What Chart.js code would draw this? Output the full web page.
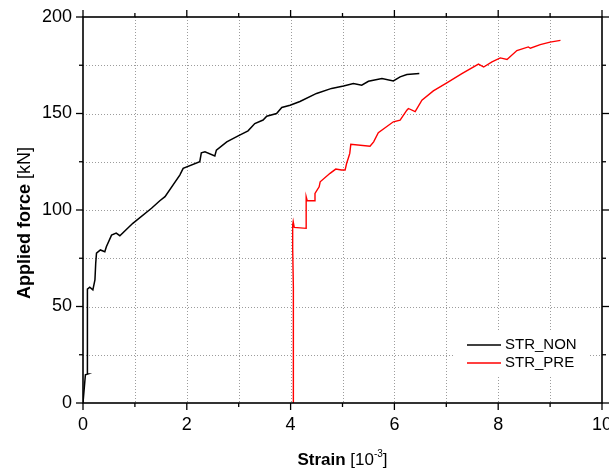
<!DOCTYPE html>
<html>
<head>
<meta charset="utf-8">
<script src="https://cdn.jsdelivr.net/npm/chart.js@4"></script>
<style>
  html, body { margin: 0; padding: 0; background: #fff; }
  #wrap { width: 609px; height: 471px; }
</style>
</head>
<body>
<div id="wrap"><canvas id="myChart" width="609" height="471"></canvas></div>
<script>
// strain [10^-3] / applied force [kN]
const strainNon = [0, 0.046, 0.09, 0.09, 0.08, 0.13, 0.19, 0.23, 0.245, 0.26, 0.335, 0.42, 0.45, 0.55, 0.64, 0.71,
    0.96, 1.32, 1.48, 1.58, 1.865, 1.93, 2.25, 2.28, 2.35, 2.54, 2.57, 2.77, 2.99, 3.18, 3.31, 3.47, 3.54, 3.73,
    3.83, 3.99, 4.18, 4.5, 4.79, 5.02, 5.21, 5.37, 5.5, 5.76, 5.98, 6.11, 6.24, 6.48];
const forceNon = [0, 14.6, 15, 55, 59, 60, 58.6, 63.8, 72.4, 77.6, 79.3, 78.4, 81, 87, 88, 86.7,
    93.1, 100.9, 104.8, 106.9, 118.1, 121.6, 125, 129.6, 130.2, 128, 131, 135.3, 138.4, 141, 144.8, 146.6, 148.6, 150,
    153.1, 154.3, 156.2, 160.4, 163, 164.2, 165.5, 164.7, 166.7, 168.1, 166.9, 169, 170.2, 170.7];

const strainPre = [4.06, 4.05, 4.06, 4.05, 4.04, 4.04, 4.05, 4.07, 4.3, 4.3, 4.32, 4.46, 4.47, 4.55, 4.57, 4.76,
    4.87, 4.98, 5.05, 5.08, 5.11, 5.14, 5.16, 5.53, 5.6, 5.69, 5.98, 6.11, 6.24, 6.27, 6.4, 6.53, 6.75, 7.01,
    7.3, 7.62, 7.72, 7.88, 8.04, 8.17, 8.36, 8.58, 8.62, 8.81, 9.0, 9.2];
const forcePre = [0, 20, 40, 60, 80, 92.2, 94, 91, 90.5, 106.9, 104.8, 104.8, 108.6, 112, 114.6, 119,
    121.2, 120.7, 120.7, 124.2, 126.7, 129.3, 134, 133, 135.3, 140, 145.7, 146.6, 151.7, 152.6, 151, 156.9, 161.7, 165.9,
    170.7, 175.6, 174.1, 176.7, 178.8, 178, 182.6, 184.5, 183.8, 185.7, 187, 187.9];

const seriesNames = ['STR_NON', 'STR_PRE'];
const seriesColors = ['#000000', '#ff0000'];
const xTicks = [0, 2, 4, 6, 8, 10];
const xMinor = [1, 3, 5, 7, 9];
const yTicks = [0, 50, 100, 150, 200];
const yMinor = [25, 75, 125, 175];

const FONT = '"Liberation Sans", Arial, sans-serif';

function pairs(xs, ys) {
    return xs.map((v, i) => ({x: v, y: ys[i]}));
}

// grid, frame, ticks, titles and legend drawn by hand
const axisPlugin = {
    id: 'axisPlugin',
    beforeDatasetsDraw(chart) {
        const ctx = chart.ctx;
        const a = chart.chartArea;
        const x = chart.scales.x, y = chart.scales.y;
        ctx.save();
        ctx.strokeStyle = '#9c9c9c';
        ctx.lineWidth = 1;
        ctx.setLineDash([1, 2]);
        for (let v = 1; v < 10; v++) {
            let px = Math.round(x.getPixelForValue(v)) + 0.5;
            ctx.beginPath(); ctx.moveTo(px, a.top); ctx.lineTo(px, a.bottom); ctx.stroke();
        }
        for (let v = 25; v < 200; v += 25) {
            let py = Math.round(y.getPixelForValue(v)) + 0.5;
            ctx.beginPath(); ctx.moveTo(a.left, py); ctx.lineTo(a.right, py); ctx.stroke();
        }
        ctx.restore();
    },
    afterDraw(chart) {
        const ctx = chart.ctx;
        const a = chart.chartArea;
        const x = chart.scales.x, y = chart.scales.y;
        ctx.save();

        // legend box
        ctx.fillStyle = '#fff';
        ctx.fillRect(453, 330, 137, 47);
        ctx.font = '15px ' + FONT;
        ctx.textAlign = 'left';
        ctx.textBaseline = 'middle';
        seriesNames.forEach((name, i) => {
            let ly = 345 + i * 18;
            ctx.strokeStyle = seriesColors[i];
            ctx.lineWidth = 1.5;
            ctx.beginPath(); ctx.moveTo(467, ly); ctx.lineTo(501, ly); ctx.stroke();
            ctx.fillStyle = '#000';
            ctx.fillText(name, 505, ly);
        });

        // frame
        ctx.strokeStyle = '#000';
        ctx.lineWidth = 1.6;
        ctx.strokeRect(a.left, a.top, a.right - a.left, a.bottom - a.top);

        // ticks on all four sides, pointing out
        ctx.lineWidth = 1.3;
        const tick = (px, py, dx, dy) => {
            ctx.beginPath(); ctx.moveTo(px, py); ctx.lineTo(px + dx, py + dy); ctx.stroke();
        };
        xTicks.forEach(v => { let px = x.getPixelForValue(v); tick(px, a.bottom, 0, 7); tick(px, a.top, 0, -7); });
        xMinor.forEach(v => { let px = x.getPixelForValue(v); tick(px, a.bottom, 0, 4); tick(px, a.top, 0, -4); });
        yTicks.forEach(v => { let py = y.getPixelForValue(v); tick(a.left, py, -7, 0); tick(a.right, py, 7, 0); });
        yMinor.forEach(v => { let py = y.getPixelForValue(v); tick(a.left, py, -4, 0); tick(a.right, py, 4, 0); });

        // tick labels
        ctx.fillStyle = '#000';
        ctx.font = '18px ' + FONT;
        ctx.textAlign = 'center';
        ctx.textBaseline = 'alphabetic';
        xTicks.forEach(v => ctx.fillText(String(v), x.getPixelForValue(v), a.bottom + 27));
        ctx.textAlign = 'right';
        ctx.textBaseline = 'middle';
        yTicks.forEach(v => ctx.fillText(String(v), a.left - 11, y.getPixelForValue(v)));

        // axis titles with mixed fonts
        const parts = (list) => {
            let w = 0;
            list.forEach(p => { ctx.font = p.font; p.w = ctx.measureText(p.t).width; w += p.w; });
            return w;
        };
        const drawParts = (list, x0, base) => {
            let cx = x0;
            ctx.textAlign = 'left';
            list.forEach(p => { ctx.font = p.font; ctx.fillText(p.t, cx, base + (p.dy || 0)); cx += p.w; });
        };

        ctx.textBaseline = 'alphabetic';
        const xt = [
            {t: 'Strain ', font: 'bold 17px ' + FONT},
            {t: '[10', font: '17px ' + FONT},
            {t: '-3', font: '10px ' + FONT, dy: -8},
            {t: ']', font: '17px ' + FONT}
        ];
        let wx = parts(xt);
        drawParts(xt, (a.left + a.right) / 2 - wx / 2, 465);

        const yt = [
            {t: 'Applied force ', font: 'bold 18px ' + FONT},
            {t: '[kN]', font: '18px ' + FONT}
        ];
        let wy = parts(yt);
        ctx.translate(30, 223);
        ctx.rotate(-Math.PI / 2);
        drawParts(yt, -wy / 2, 0);

        ctx.restore();
    }
};

document.addEventListener('DOMContentLoaded', function () {
    let ctx = document.getElementById('myChart').getContext('2d');

    new Chart(ctx, {
        type: 'line',
        data: {
            datasets: [
                {
                    label: seriesNames[0],
                    data: pairs(strainNon, forceNon),
                    borderColor: seriesColors[0],
                    borderWidth: 1.5,
                    pointRadius: 0,
                    tension: 0,
                    fill: false
                },
                {
                    label: seriesNames[1],
                    data: pairs(strainPre, forcePre),
                    borderColor: seriesColors[1],
                    borderWidth: 1.4,
                    pointRadius: 0,
                    tension: 0,
                    fill: false
                }
            ]
        },
        options: {
            responsive: false,
            animation: false,
            layout: {
                padding: {left: 83, top: 17, right: 7, bottom: 68}
            },
            plugins: {
                legend: {display: false},
                tooltip: {enabled: false}
            },
            scales: {
                x: {
                    type: 'linear',
                    min: 0,
                    max: 10,
                    grid: {display: false},
                    border: {display: false},
                    ticks: {display: false},
                    afterFit: (s) => { s.height = 0; }
                },
                y: {
                    type: 'linear',
                    min: 0,
                    max: 200,
                    grid: {display: false},
                    border: {display: false},
                    ticks: {display: false},
                    afterFit: (s) => { s.width = 0; }
                }
            }
        },
        plugins: [axisPlugin]
    });
});
</script>
</body>
</html>
